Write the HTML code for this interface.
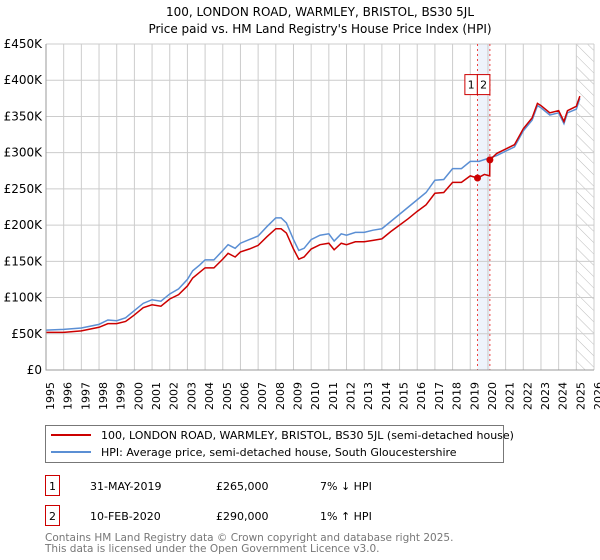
<!DOCTYPE html>
<html><head><meta charset="utf-8"><style>
body{margin:0;background:#fff;font-family:"DejaVu Sans","Liberation Sans",sans-serif;}
#wrap{position:relative;width:600px;height:560px;overflow:hidden}
</style></head><body><div id="wrap">
<svg id="chart" width="600" height="560" xmlns="http://www.w3.org/2000/svg" font-family="DejaVu Sans, Liberation Sans, sans-serif">
<text x="320" y="16" font-size="12" text-anchor="middle">100, LONDON ROAD, WARMLEY, BRISTOL, BS30 5JL</text>
<text x="320" y="33" font-size="12" text-anchor="middle">Price paid vs. HM Land Registry's House Price Index (HPI)</text>
<g id="grid"></g><g id="marks"></g><g id="axes"></g>
<g>
<rect x="45.5" y="425.5" width="458" height="37" fill="#fff" stroke="#777"/>
<line x1="51" y1="435" x2="91" y2="435" stroke="#cc0000" stroke-width="2"/>
<text x="101" y="439" font-size="11">100, LONDON ROAD, WARMLEY, BRISTOL, BS30 5JL (semi-detached house)</text>
<line x1="51" y1="452" x2="91" y2="452" stroke="#5b8fd4" stroke-width="2"/>
<text x="101" y="456" font-size="11">HPI: Average price, semi-detached house, South Gloucestershire</text>
</g>
<g font-size="11">
<rect x="45.5" y="475.5" width="14" height="20" fill="#fff" stroke="#cc0000"/>
<text x="52.5" y="490" text-anchor="middle">1</text>
<text x="90" y="490">31-MAY-2019</text><text x="216" y="490">£265,000</text><text x="320" y="490">7% ↓ HPI</text>
<rect x="45.5" y="505.5" width="14" height="20" fill="#fff" stroke="#cc0000"/>
<text x="52.5" y="520" text-anchor="middle">2</text>
<text x="90" y="520">10-FEB-2020</text><text x="216" y="520">£290,000</text><text x="320" y="520">1% ↑ HPI</text>
</g>
<text x="45" y="541" font-size="10.5" fill="#777">Contains HM Land Registry data © Crown copyright and database right 2025.</text>
<text x="45" y="552" font-size="10.5" fill="#777">This data is licensed under the Open Government Licence v3.0.</text>
</svg></div>
<script>
const hpiYears=[1995,1996,1997,1998,1998.5,1999,1999.5,2000,2000.5,2001,2001.5,2002,2002.5,2003,2003.3,2003.7,2004,2004.5,2005,2005.3,2005.7,2006,2006.5,2007,2007.5,2008,2008.3,2008.6,2009,2009.3,2009.6,2010,2010.5,2011,2011.3,2011.7,2012,2012.5,2013,2013.5,2014,2014.5,2015,2015.5,2016,2016.5,2017,2017.5,2018,2018.5,2019,2019.5,2020,2020.5,2021,2021.5,2022,2022.5,2022.8,2023,2023.5,2024,2024.3,2024.5,2025,2025.2];
const hpiValues=[55,56,58,63,69,68,72,82,92,97,95,105,112,125,137,145,152,152,165,173,168,175,180,185,198,210,210,203,180,165,168,180,186,188,178,188,186,190,190,193,195,205,215,225,235,245,262,263,278,278,288,288,292,296,302,308,330,345,365,362,352,355,340,355,360,375];
const propYears=[1995,1996,1997,1998,1998.5,1999,1999.5,2000,2000.5,2001,2001.5,2002,2002.5,2003,2003.3,2003.7,2004,2004.5,2005,2005.3,2005.7,2006,2006.5,2007,2007.5,2008,2008.3,2008.6,2009,2009.3,2009.6,2010,2010.5,2011,2011.3,2011.7,2012,2012.5,2013,2013.5,2014,2014.5,2015,2015.5,2016,2016.5,2017,2017.5,2018,2018.5,2019,2019.41,2019.8,2020.1,2020.11,2020.5,2021,2021.5,2022,2022.5,2022.8,2023,2023.5,2024,2024.3,2024.5,2025,2025.2];
const propValues=[52,52,54,59,64,64,67,76,86,90,88,98,104,116,127,135,141,141,153,161,156,163,167,172,184,195,195,189,167,153,156,167,173,175,166,175,173,177,177,179,181,191,200,209,219,228,244,245,259,259,268,265,270,268,290,299,305,311,333,348,368,365,355,358,343,358,364,378];
const saleYears=[2019.41,2020.11];
const saleValues=[265,290];
const saleLabels=["1","2"];
const yTicks=[0,50,100,150,200,250,300,350,400,450];
const xTicks=[1995,1996,1997,1998,1999,2000,2001,2002,2003,2004,2005,2006,2007,2008,2009,2010,2011,2012,2013,2014,2015,2016,2017,2018,2019,2020,2021,2022,2023,2024,2025,2026];

const NS="http://www.w3.org/2000/svg";
const L=46,R=594,T=44,B=370;
const xs=y=>L+(y-1995)/(2026-1995)*(R-L);
const ys=v=>B-v/450*(B-T);
function mk(tag,attrs,parent){const e=document.createElementNS(NS,tag);for(const k in attrs)e.setAttribute(k,attrs[k]);parent.appendChild(e);return e;}
const grid=document.getElementById('grid'),marks=document.getElementById('marks'),axes=document.getElementById('axes');
const sp=mk('rect',{x:xs(saleYears[0]),y:T,width:xs(saleYears[1])-xs(saleYears[0]),height:B-T,fill:'#eef3fb'},grid);


const defs=mk('defs',{},grid);
const pat=mk('pattern',{id:'hatch',width:8,height:8,patternUnits:'userSpaceOnUse',patternTransform:'rotate(-45)'},defs);
mk('line',{x1:0,y1:0,x2:0,y2:8,stroke:'#bbb','stroke-width':1},pat);
const hr=mk('rect',{x:xs(2025),y:T,width:R-xs(2025),height:B-T,fill:'url(#hatch)'},grid);


xTicks.forEach(t=>{
  const l=mk('line',{x1:xs(t),x2:xs(t),y1:T,y2:B,stroke:'#ccc'},grid);
  
  
  const tx=mk('text',{x:xs(t),y:B+12,'font-size':11,'text-anchor':'end',transform:`rotate(-90 ${xs(t)+4} ${B+8})`},axes);
  tx.textContent=t;
  
  
});
yTicks.forEach(t=>{
  const l=mk('line',{x1:L,x2:R,y1:ys(t),y2:ys(t),stroke:'#ccc'},grid);
  
  
  const tx=mk('text',{x:L-4,y:ys(t)+4,'font-size':12,'text-anchor':'end'},axes);
  tx.textContent=t===0?'£0':'£'+t+'K';
  
  
});
const ax=mk('path',{d:`M${L},${T}V${B}H${R}`,fill:'none',stroke:'#999'},axes);


const boxW=12.5;
const box2Left=xs(saleYears[1])-boxW;
saleYears.forEach((y,i)=>{
  const l=mk('line',{x1:xs(y),x2:xs(y),y1:T,y2:B,stroke:'#ee4444','stroke-dasharray':'2,3'},grid);
  
  
  const bxX=i===1?box2Left:box2Left-boxW;
  const bx=mk('rect',{x:bxX,y:ys(405)-2,width:boxW,height:20,fill:'#fff',stroke:'#cc0000'},marks);
  
  
  const t=mk('text',{x:bxX+boxW/2,y:ys(405)+12,'font-size':11,'text-anchor':'middle'},marks);
  t.textContent=saleLabels[i];
  
  
});
const hp=mk('polyline',{points:hpiYears.map((y,i)=>xs(y)+','+ys(hpiValues[i])).join(' '),fill:'none',stroke:'#5b8fd4','stroke-width':1.5},marks);


const pp=mk('polyline',{points:propYears.map((y,i)=>xs(y)+','+ys(propValues[i])).join(' '),fill:'none',stroke:'#cc0000','stroke-width':1.5},marks);


saleYears.forEach((y,i)=>{
  const c=mk('circle',{cx:xs(y),cy:ys(saleValues[i]),r:3.5,fill:'#cc0000'},marks);
  
  
});
</script></body></html>
